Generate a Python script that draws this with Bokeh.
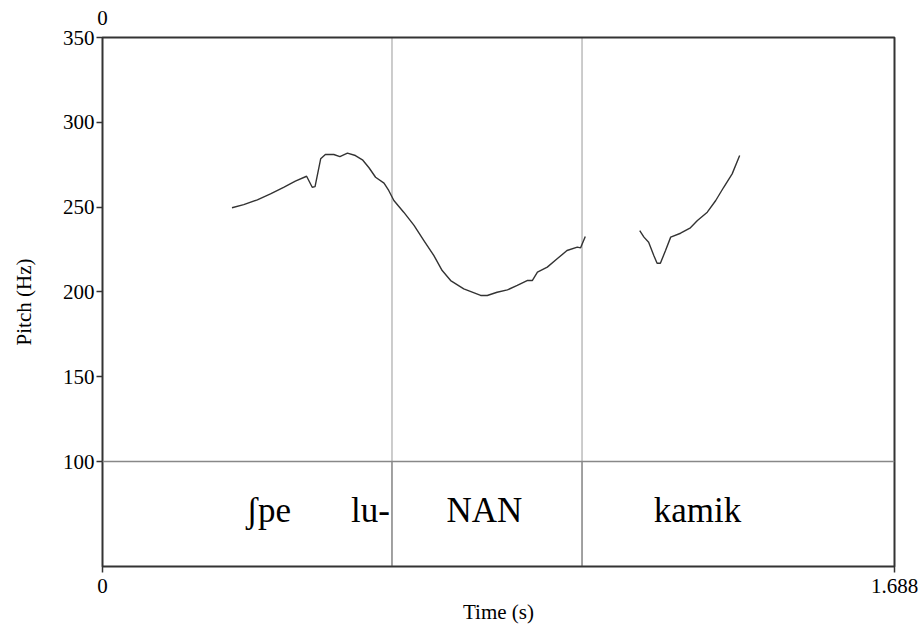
from bokeh.plotting import figure
from bokeh.models import Range1d, FixedTicker, Span, LinearAxis, Label
from bokeh.embed import file_html
from bokeh.resources import INLINE

# ---- data ----
time_1 = [0.276, 0.301, 0.330, 0.358, 0.386, 0.411, 0.435, 0.447, 0.453, 0.465,
          0.475, 0.493, 0.506, 0.522, 0.539, 0.554, 0.568, 0.582, 0.600, 0.610,
          0.621, 0.642, 0.664, 0.685, 0.706, 0.724, 0.742, 0.770, 0.806, 0.820,
          0.841, 0.863, 0.884, 0.905, 0.916, 0.927, 0.948, 0.969, 0.990, 1.012,
          1.019, 1.029]
pitch_1 = [249.6, 251.5, 254.3, 257.8, 261.7, 265.3, 268.2, 261.7, 262.1, 278.5,
           281.0, 281.0, 279.8, 281.8, 280.4, 277.9, 273.2, 267.6, 264.1, 259.8,
           253.9, 247.0, 239.2, 230.3, 221.5, 212.6, 206.7, 201.8, 197.9, 197.9,
           199.8, 201.2, 203.8, 206.7, 206.7, 211.6, 214.6, 219.5, 224.4, 226.4,
           226.0, 232.7]
time_2 = [1.145, 1.154, 1.164, 1.175, 1.182, 1.189, 1.200, 1.211, 1.232, 1.253,
          1.268, 1.289, 1.307, 1.324, 1.342, 1.358]
pitch_2 = [236.2, 232.3, 229.3, 221.5, 216.9, 216.9, 224.4, 232.3, 234.6, 237.8,
           242.1, 247.0, 253.9, 261.7, 269.6, 280.4]
boundaries = [0.617, 1.022]
tier_labels = ["\u0283pe", "lu-", "NAN", "kamik"]
tier_times = [0.354, 0.571, 0.814, 1.268]
y_ticks = [100, 150, 200, 250, 300, 350]
x_ticks = [0, 1.688]
x_tick_labels = ["0", "1.688"]
top_ticks = [0]
top_tick_labels = ["0"]
t_min, t_max = 0, 1.688
f_min, f_max = 38.1, 350
tier_top = 100
tier_text_y = 71

FONT = "Liberation Serif"
DARK = "#333333"

p = figure(width=922, height=628, output_backend="svg", toolbar_location=None,
           x_range=Range1d(t_min, t_max), y_range=Range1d(f_min, f_max),
           min_border_left=102, min_border_right=28, min_border_top=37,
           min_border_bottom=62)
p.grid.visible = False
p.outline_line_color = DARK
p.outline_line_width = 2
p.background_fill_color = "white"
p.border_fill_color = "white"

# top axis carrying the lone "0"
top = LinearAxis(ticker=FixedTicker(ticks=top_ticks),
                 major_label_overrides={t: l for t, l in zip(top_ticks, top_tick_labels)})
p.add_layout(top, "above")

# axes
p.yaxis.ticker = FixedTicker(ticks=y_ticks)
p.below[0].ticker = FixedTicker(ticks=x_ticks)
p.below[0].major_label_overrides = {t: l for t, l in zip(x_ticks, x_tick_labels)}
for ax in (p.below[0], p.left[0], top):
    ax.axis_line_color = None
    ax.major_tick_in = 0
    ax.major_tick_out = 6
    ax.major_tick_line_color = DARK
    ax.major_tick_line_width = 1.5
    ax.minor_tick_line_color = None
    ax.major_label_text_font = FONT
    ax.major_label_text_font_size = "21px"
    ax.major_label_text_color = "black"
    ax.axis_label_text_font = FONT
    ax.axis_label_text_font_style = "normal"
    ax.axis_label_text_color = "black"
    ax.axis_label_text_font_size = "21px"
top.major_tick_out = 0
top.major_tick_line_color = None
top.major_label_standoff = 13
p.yaxis.axis_label = "Pitch (Hz)"
p.yaxis.axis_label_standoff = 24
p.yaxis.major_label_standoff = 2
p.yaxis.major_label_orientation = "horizontal"
p.below[0].axis_label = "Time (s)"
p.below[0].axis_label_standoff = 4
p.below[0].major_label_standoff = 6

# tier separator line
p.add_layout(Span(location=tier_top, dimension="width", line_color="#888888",
                  line_width=1.5))

# interval boundaries
p.segment(x0=boundaries, y0=[tier_top] * len(boundaries), x1=boundaries,
          y1=[f_max] * len(boundaries), line_color="#333333", line_width=1,
          line_dash="1 1")
p.segment(x0=boundaries, y0=[f_min] * len(boundaries), x1=boundaries,
          y1=[tier_top] * len(boundaries), line_color="#444444", line_width=1)

# pitch contour
p.line(time_1, pitch_1, line_color="#333333", line_width=1.4)
p.line(time_2, pitch_2, line_color="#333333", line_width=1.4)

# tier text
for t, lab in zip(tier_times, tier_labels):
    p.add_layout(Label(x=t, y=tier_text_y, text=lab, text_align="center",
                       text_baseline="middle", text_font=FONT,
                       text_font_size="35px", text_color="black"))

open("out.html", "w").write(file_html(p, INLINE))
